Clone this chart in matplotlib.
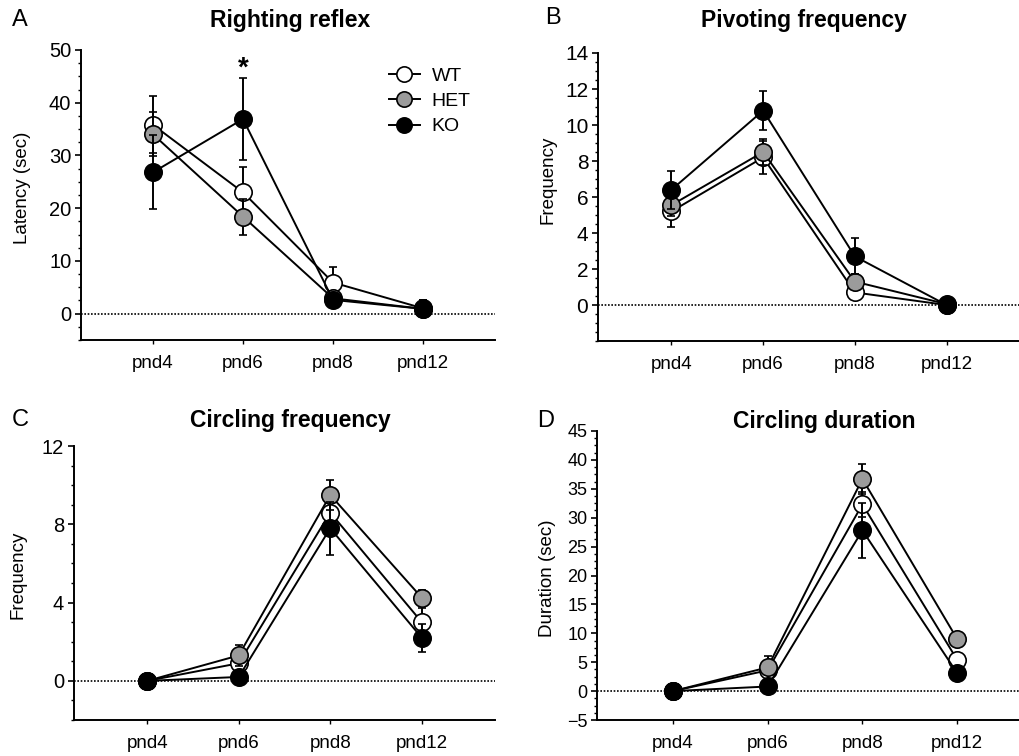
"""
plot.py
Four-panel developmental behaviour figure (righting reflex, pivoting,
circling frequency, circling duration) for WT / HET / KO pups.
"""

import numpy as np
import matplotlib
matplotlib.use("Agg")
import matplotlib.pyplot as plt
from matplotlib.lines import Line2D
from matplotlib.ticker import MultipleLocator, FixedLocator

plt.rcParams["font.family"] = ["Liberation Sans", "DejaVu Sans"]

# ── Data (means ± SEM) ────────────────────────────────────────────────────

days = ["pnd4", "pnd6", "pnd8", "pnd12"]
groups = ["WT", "HET", "KO"]

# A — righting reflex latency (sec)
righting_wt = [35.8, 23.0, 5.9, 1.0]
righting_het = [34.0, 18.4, 2.9, 0.9]
righting_ko = [26.8, 36.9, 2.6, 0.9]
righting_wt_err = [5.4, 4.8, 2.9, 1.5]
righting_het_err = [4.2, 3.4, 1.0, 1.0]
righting_ko_err = [7.0, 7.8, 1.0, 1.6]

# B — pivoting frequency
pivot_wt = [5.2, 8.2, 0.7, 0.0]
pivot_het = [5.55, 8.5, 1.3, 0.05]
pivot_ko = [6.4, 10.8, 2.7, 0.0]
pivot_wt_err = [0.85, 0.9, 0.3, 0.0]
pivot_het_err = [0.6, 0.7, 0.4, 0.0]
pivot_ko_err = [1.05, 1.1, 1.0, 0.0]

# C — circling frequency
circ_wt = [0.0, 0.9, 8.6, 3.0]
circ_het = [0.0, 1.3, 9.5, 4.25]
circ_ko = [0.0, 0.2, 7.8, 2.2]
circ_wt_err = [0.0, 0.4, 0.5, 0.7]
circ_het_err = [0.0, 0.55, 0.75, 0.4]
circ_ko_err = [0.0, 0.2, 1.35, 0.7]

# D — circling duration (sec)
dur_wt = [0.0, 3.6, 32.3, 5.4]
dur_het = [0.0, 4.1, 36.7, 9.0]
dur_ko = [0.0, 0.8, 27.8, 3.1]
dur_wt_err = [0.0, 1.5, 2.1, 1.0]
dur_het_err = [0.0, 2.0, 2.6, 0.8]
dur_ko_err = [0.0, 0.5, 4.8, 0.6]

FACE = {"WT": "white", "HET": "#9b9b9b", "KO": "black"}


# ── Helpers ───────────────────────────────────────────────────────────────

def draw_panel(ax, series, errors, ylim, major_ticks, minor, tick_fs):
    x = np.arange(len(days))
    for i, (g, y, e) in enumerate(zip(groups, series, errors)):
        ax.errorbar(x, y, yerr=e, fmt="-o", color="black", lw=1.4,
                    ms=12.5, mfc=FACE[g], mec="black", mew=1.2,
                    elinewidth=1.4, capsize=2.6, capthick=1.4,
                    zorder=3 + i)
    ax.axhline(0, color="black", ls=(0, (1, 1)), lw=1.2, zorder=1)
    ax.set_xlim(-0.8, 3.8)
    ax.set_ylim(*ylim)
    ax.set_xticks(x)
    ax.set_xticklabels(days, fontsize=13.5)
    ax.yaxis.set_major_locator(FixedLocator(major_ticks))
    ax.yaxis.set_minor_locator(MultipleLocator(minor))
    ax.tick_params(axis="y", labelsize=tick_fs, direction="out",
                   length=4, width=1.2, pad=3)
    ax.tick_params(axis="y", which="minor", length=2.2, width=1.0)
    ax.tick_params(axis="x", direction="out", length=3, width=1.0, pad=8)
    for side in ("top", "right"):
        ax.spines[side].set_visible(False)
    for side in ("left", "bottom"):
        ax.spines[side].set_linewidth(1.4)


# ── Figure ────────────────────────────────────────────────────────────────

fig = plt.figure(figsize=(10.2, 7.56), dpi=100)

ax_a = fig.add_axes([0.0794, 0.5503, 0.4059, 0.3836])
ax_b = fig.add_axes([0.5863, 0.5489, 0.4137, 0.3810])
ax_c = fig.add_axes([0.0725, 0.0476, 0.4128, 0.3624])
ax_d = fig.add_axes([0.5853, 0.0476, 0.4275, 0.3823])

draw_panel(ax_a, [righting_wt, righting_het, righting_ko],
           [righting_wt_err, righting_het_err, righting_ko_err],
           (-5, 50), np.arange(0, 51, 10), 2.5, 14.5)
draw_panel(ax_b, [pivot_wt, pivot_het, pivot_ko],
           [pivot_wt_err, pivot_het_err, pivot_ko_err],
           (-2, 14), np.arange(0, 15, 2), 0.5, 15)
draw_panel(ax_c, [circ_wt, circ_het, circ_ko],
           [circ_wt_err, circ_het_err, circ_ko_err],
           (-2, 12), np.arange(0, 13, 4), 1, 14.5)
draw_panel(ax_d, [dur_wt, dur_het, dur_ko],
           [dur_wt_err, dur_het_err, dur_ko_err],
           (-5, 45), np.arange(-5, 46, 5), 1.25, 13)

# significance marker on righting reflex, pnd6
ax_a.text(1, 46.5, "*", ha="center", va="center", fontsize=20,
          fontweight="bold")

handles = [Line2D([], [], color="black", lw=1.4, marker="o", ms=11,
                  mfc=FACE[g], mec="black", mew=1.2) for g in groups]
ax_a.legend(handles, groups, loc="upper left", bbox_to_anchor=(0.72, 0.975),
            frameon=False, fontsize=14, handlelength=1.6,
            handletextpad=0.6, labelspacing=0.4, borderpad=0)

# titles, panel letters and y labels placed in figure coordinates
titles = ["Righting reflex", "Pivoting frequency", "Circling frequency",
          "Circling duration"]
title_pos = [(0.2843, 0.9735), (0.788, 0.9735), (0.2843, 0.4444),
             (0.8078, 0.4431)]
letters = ["A", "B", "C", "D"]
letter_pos = [(0.0118, 0.9735), (0.534, 0.976), (0.0118, 0.4444),
              (0.5265, 0.4431)]
ylabels = ["Latency (sec)", "Frequency", "Frequency", "Duration (sec)"]
ylabel_pos = [(0.0216, 0.7513), (0.537, 0.762), (0.0176, 0.2394),
              (0.5363, 0.2354)]

for t, (tx, ty) in zip(titles, title_pos):
    fig.text(tx, ty, t, ha="center", va="center", fontsize=16.5,
             fontweight="bold")
for l, (lx, ly) in zip(letters, letter_pos):
    fig.text(lx, ly, l, ha="left", va="center", fontsize=17)
for yl, (yx, yy) in zip(ylabels, ylabel_pos):
    fig.text(yx, yy, yl, ha="center", va="center", rotation=90,
             fontsize=13.5)

fig.savefig("out.png", dpi=100)
plt.close(fig)
